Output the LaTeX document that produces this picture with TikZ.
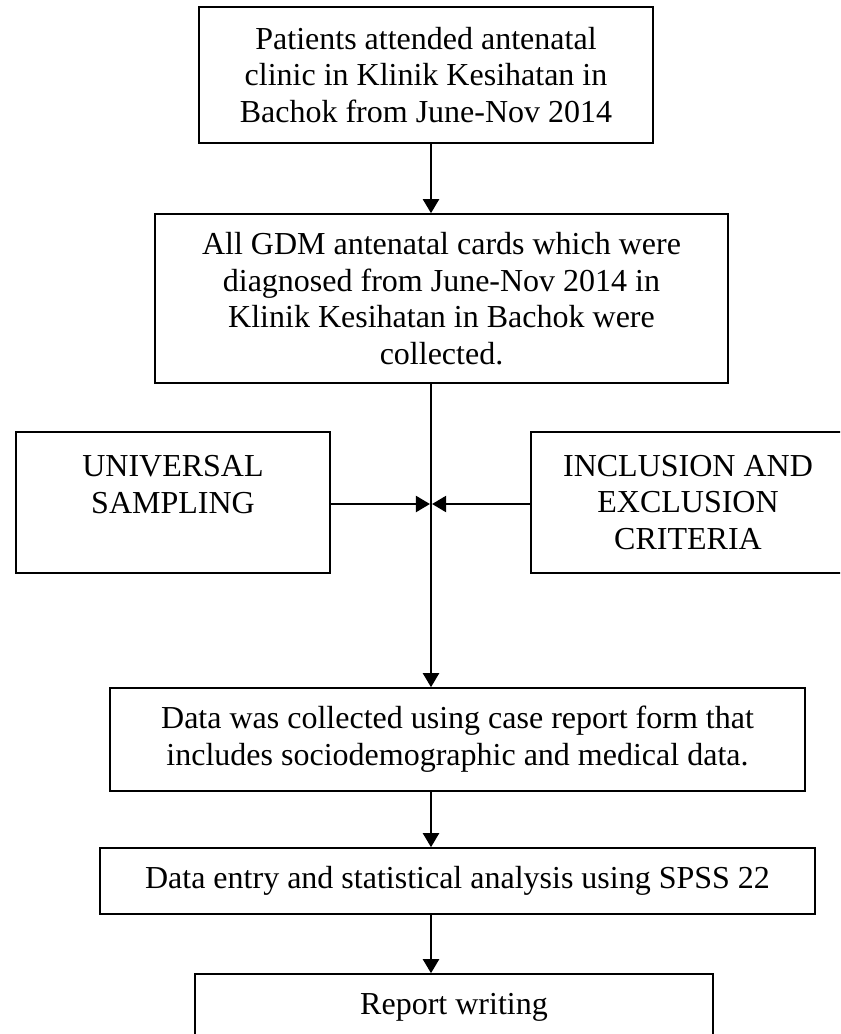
\documentclass[tikz,border=0pt]{standalone}
\usepackage{fontspec}
\setmainfont{Liberation Serif}
\usetikzlibrary{arrows.meta}

\begin{document}
\begin{tikzpicture}[x = 0.75pt, y = -0.75pt, > = {Triangle[length = 10.5pt, width = 12pt]},
	font = \fontsize{24}{27.5}\selectfont,
	box/.style 2 args = {draw, line width = 1.2pt, align = center, inner sep = 0pt,
		minimum width = #1*0.75pt, minimum height = #2*0.75pt},
	flow/.style = {->, line width = 1.6pt}]

	% Definition
	
	\def\S{431}		% x of the main flow line
	\def\J{504}		% y where the side arrows meet
	
	\useasboundingbox (0, 0) rectangle (840, 1034);
	\clip (0, 0) rectangle (840, 1034);
	
	% Boxes
	
	\node [box = {454}{136}] (clinic) at (426, 75) {Patients attended antenatal\\clinic in Klinik Kesihatan in\\Bachok from June-Nov 2014};
	\node [box = {573}{169}] (gdm) at (441.5, 298.5) {All GDM antenatal cards which were\\diagnosed from June-Nov 2014 in\\Klinik Kesihatan in Bachok were\\collected.};
	\node [box = {314}{141}, text height = 60.75pt, text depth = 45pt] (universal) at (173, 502.5) {UNIVERSAL\\SAMPLING};
	\node [box = {314}{141}] (criteria) at (688, 502.5) {INCLUSION AND\\EXCLUSION\\CRITERIA};
	\node [box = {695}{103}] (crf) at (457.5, 739.5) {Data was collected using case report form that\\includes sociodemographic and medical data.};
	\node [box = {715}{66}] (spss) at (457.5, 881) {Data entry and statistical analysis using SPSS 22};
	\node [box = {518}{66}] (report) at (454, 1007) {Report writing};
	
	% Main flow line
	
	\coordinate (spine) at (\S, \J);
	
	\draw [flow] (clinic.south -| spine) -- (gdm.north -| spine);
	\draw [flow] (gdm.south -| spine) -- (crf.north -| spine);
	\draw [flow] (crf.south -| spine) -- (spss.north -| spine);
	\draw [flow] (spss.south -| spine) -- (report.north -| spine);
	
	% Side arrows
	
	\draw [flow, shorten > = 0.8pt] (universal.east |- spine) -- (spine);
	\draw [flow, shorten > = 0.8pt] (criteria.west |- spine) -- (spine);

\end{tikzpicture}
\end{document}
